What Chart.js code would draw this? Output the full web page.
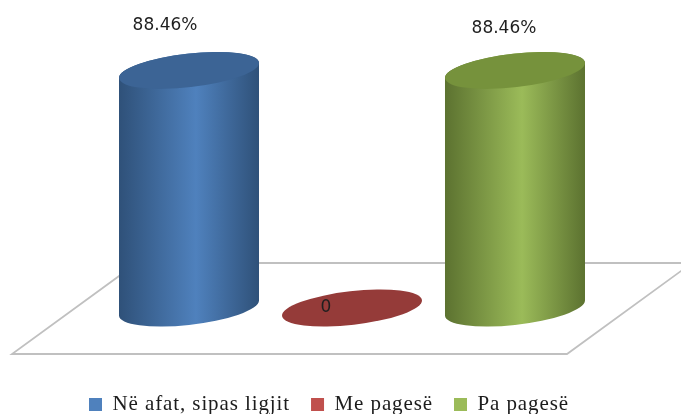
<!DOCTYPE html>
<html>
<head>
<meta charset="utf-8">
<style>
  html, body { margin: 0; padding: 0; background: #fff; }
  #wrap { width: 681px; height: 414px; }
</style>
<script src="https://cdn.jsdelivr.net/npm/chart.js@4/dist/chart.umd.min.js"></script>
</head>
<body>
<div id="wrap"><canvas id="chart"></canvas></div>
<script>
var categories = [''];
var seriesNames = ['Në afat, sipas ligjit', 'Me pagesë', 'Pa pagesë'];
var seriesValues = [[88.46], [0], [88.46]];
var valueLabels = ['88.46%', '0', '88.46%'];

var swatchColors = ['#4f81bd', '#c0504d', '#9bbb59'];
var edgeColors = ['#2f5179', '#7a2f2d', '#5c7230'];
var topColors = ['#3c6495', '#953b39', '#76923c'];
var labelShift = [[-24, -45], [-26, 0], [-11, -42]];

var drawFloor = function (ctx) {
    ctx.save();
    ctx.strokeStyle = '#c0c0c0';
    ctx.lineWidth = 1.8;
    ctx.beginPath();
    ctx.moveTo(137, 263);
    ctx.lineTo(692, 263);
    ctx.lineTo(567, 354);
    ctx.lineTo(12, 354);
    ctx.closePath();
    ctx.stroke();
    ctx.restore();
};

var cylinderPath = function (ctx, x, top, base, rx, ry, tilt) {
    // param angle where the tilted ellipse reaches its left and right extremes
    var t0 = Math.atan(-(ry / rx) * Math.tan(tilt));
    ctx.beginPath();
    ctx.ellipse(x, top, rx, ry, tilt, Math.PI + t0, t0, false);
    ctx.ellipse(x, base, rx, ry, tilt, t0, Math.PI + t0, false);
    ctx.closePath();
};

var cylinderPlugin = {
    id: 'cylinders',
    beforeUpdate: function (chart) {
        chart.ctx.letterSpacing = '0.9px';
    },
    beforeDraw: function (chart) {
        chart.ctx.letterSpacing = '0.9px';
    },
    beforeDatasetsDraw: function (chart) {
        drawFloor(chart.ctx);
    },
    beforeDatasetDraw: function (chart, args) {
        var i = args.index;
        var ctx = chart.ctx;
        var bar = args.meta.data[0];
        var half = bar.width / 2;
        var rx = half * 1.006;
        var ry = half * 0.24;
        var tilt = -6.5 * Math.PI / 180;

        ctx.save();
        if (bar.base - bar.y > 1) {
            var grad = ctx.createLinearGradient(bar.x - half, 0, bar.x + half, 0);
            grad.addColorStop(0, edgeColors[i]);
            grad.addColorStop(0.55, swatchColors[i]);
            grad.addColorStop(1, edgeColors[i]);
            ctx.fillStyle = grad;
            cylinderPath(ctx, bar.x, bar.y, bar.base, rx, ry, tilt);
            ctx.fill();
        }
        ctx.fillStyle = topColors[i];
        ctx.beginPath();
        ctx.ellipse(bar.x, bar.y, rx, ry, tilt, 0, Math.PI * 2);
        ctx.fill();
        ctx.restore();
        return false;
    },
    afterDatasetsDraw: function (chart) {
        var ctx = chart.ctx;
        ctx.save();
        ctx.letterSpacing = '0px';
        ctx.font = '17px "DejaVu Sans"';
        ctx.fillStyle = '#1f1f1f';
        ctx.textAlign = 'center';
        ctx.textBaseline = 'middle';
        valueLabels.forEach(function (text, i) {
            var bar = chart.getDatasetMeta(i).data[0];
            ctx.fillText(text, bar.x + labelShift[i][0], bar.y + labelShift[i][1]);
        });
        ctx.restore();
    }
};

new Chart(document.getElementById('chart'), {
    type: 'bar',
    data: {
        labels: categories,
        datasets: seriesNames.map(function (name, i) {
            return {
                label: name,
                data: seriesValues[i],
                backgroundColor: swatchColors[i],
                categoryPercentage: 0.799,
                barPercentage: 0.859
            };
        })
    },
    options: {
        responsive: true,
        maintainAspectRatio: false,
        animation: false,
        layout: { padding: { top: 39.4, right: 23, left: 0, bottom: -11 } },
        scales: {
            x: {
                grid: { display: false },
                border: { display: false },
                ticks: { display: false },
                afterFit: function (scale) { scale.height = 65; }
            },
            y: {
                min: 0,
                max: 100,
                grid: { display: false },
                border: { display: false },
                ticks: { display: false },
                afterFit: function (scale) { scale.width = 46; }
            }
        },
        plugins: {
            tooltip: { enabled: false },
            legend: {
                position: 'bottom',
                labels: {
                    font: { family: '"Liberation Serif"', size: 21 },
                    color: '#1c1c1c',
                    boxWidth: 13,
                    boxHeight: 13,
                    padding: 21
                }
            }
        }
    },
    plugins: [cylinderPlugin]
});
</script>
</body>
</html>
